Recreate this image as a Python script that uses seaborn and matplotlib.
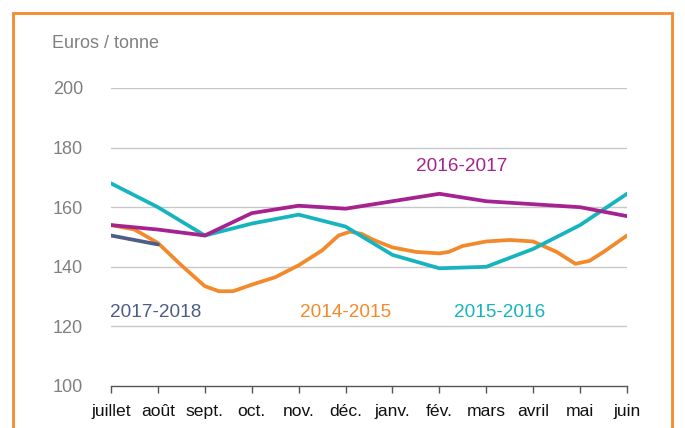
import matplotlib
matplotlib.use("Agg")
import matplotlib.pyplot as plt
import seaborn as sns
import pandas as pd
from matplotlib.patches import Rectangle

months = ["juillet", "août", "sept.", "oct.", "nov.", "déc.", "janv.", "fév.",
          "mars", "avril", "mai", "juin"]

s2016_2017 = [154, 152.5, 150.5, 158, 160.5, 159.5, 162, 164.5, 162, 161, 160, 157]
s2015_2016 = [168, 160, 150.5, 154.5, 157.5, 153.5, 144, 139.5, 140, 146, 154, 164.5]
s2017_2018 = [150.5, 147.5]
s2014_2015_x = [0, 0.5, 1.0, 1.5, 2.0, 2.3, 2.6, 3.0, 3.5, 4.0, 4.5, 4.85, 5.1, 5.35,
                5.6, 6.0, 6.5, 7.0, 7.2, 7.5, 8.0, 8.5, 9.0, 9.5, 9.9, 10.2, 10.5, 11.0]
s2014_2015_y = [154, 152.5, 148, 140.5, 133.5, 131.8, 131.8, 134, 136.5, 140.5, 145.5,
                150.5, 151.8, 151, 149, 146.5, 145, 144.5, 145, 147, 148.5, 149, 148.5,
                145, 141, 142, 145, 150.5]

labels = ["2016-2017", "2017-2018", "2014-2015", "2015-2016"]
label_x = [7.48, 0.95, 5.0, 8.28]
label_y = [173.5, 124.7, 124.7, 124.7]

colors = {"2016-2017": "#A6228E", "2015-2016": "#16B4BE",
          "2014-2015": "#F28A2B", "2017-2018": "#4E5D87"}

rows = []
for i, v in enumerate(s2016_2017):
    rows.append(("2016-2017", i, v))
for i, v in enumerate(s2015_2016):
    rows.append(("2015-2016", i, v))
for i, v in enumerate(s2017_2018):
    rows.append(("2017-2018", i, v))
for x, v in zip(s2014_2015_x, s2014_2015_y):
    rows.append(("2014-2015", x, v))
df = pd.DataFrame(rows, columns=["saison", "mois", "prix"])

sns.set_theme(style="white")
plt.rcParams["font.family"] = ["Liberation Sans", "DejaVu Sans"]

fig = plt.figure(figsize=(6.85, 4.28), dpi=100)
ax = fig.add_axes([111/685, 1 - 386/428, (627 - 111)/685, (386 - 88)/428])

for s in ["2014-2015", "2015-2016", "2017-2018", "2016-2017"]:
    sub = df[df.saison == s]
    sns.lineplot(data=sub, x="mois", y="prix", color=colors[s], lw=2.7,
                 ax=ax, legend=False, sort=False, solid_joinstyle="round")

ax.set_xlim(0, 11)
ax.set_ylim(100, 200)
ax.set_yticks([100, 120, 140, 160, 180, 200])
ax.set_xticks(range(12))
ax.set_xticklabels(months, fontsize=12.6, color="#111111")
ax.tick_params(axis="y", length=0, pad=20, labelsize=13, labelcolor="#808080")
ax.tick_params(axis="x", length=5, width=1, color="#555555", direction="out",
               pad=8, bottom=True)
ax.set_xlabel("")
ax.set_ylabel("")
for sp in ["left", "right", "top"]:
    ax.spines[sp].set_visible(False)
ax.spines["bottom"].set_color("#555555")
ax.spines["bottom"].set_linewidth(1)
for yv in [120, 140, 160, 180, 200]:
    ax.axhline(yv, color="#C8C8C8", lw=1, zorder=0)

for t, x, y in zip(labels, label_x, label_y):
    ax.text(x, y, t, color=colors[t], fontsize=13.7, ha="center", va="center")

fig.text(52/685, 1 - 44/428, "Euros / tonne", color="#808080", fontsize=13,
         ha="left", va="center")

fig.patches.append(Rectangle((13/685, -0.05), (672 - 13)/685, 1.05 - 13/428,
                             transform=fig.transFigure, fill=False,
                             edgecolor="#F58A2E", lw=2))

fig.savefig("out.png", dpi=100)
